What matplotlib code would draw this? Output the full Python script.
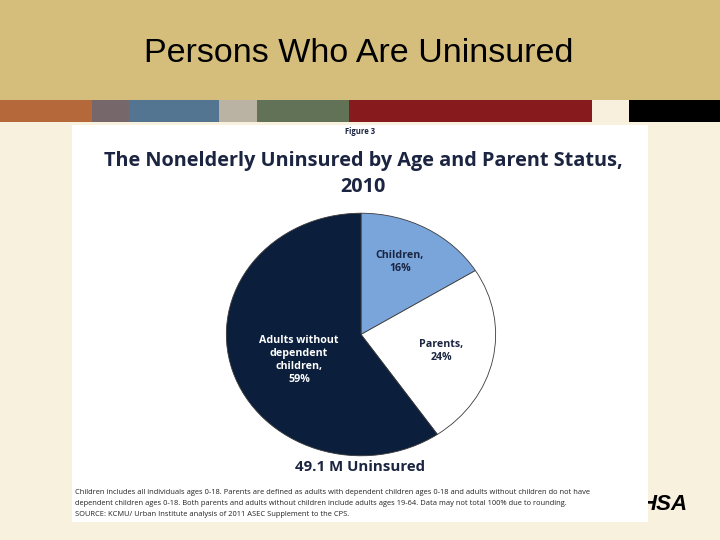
import matplotlib.pyplot as plt
from matplotlib.patches import Rectangle

# dados do grafico
categorias = ['Children', 'Parents', 'Adults without\ndependent\nchildren']
percentuais = [16, 24, 59]
cores = ['#79a5da', '#ffffff', '#0b1e3b']
cores_texto = ['#1b2440', '#1b2440', '#ffffff']

faixa_cores = ['#b5693a', '#76676a', '#547592', '#bab2a3', '#627257', '#861a1c', '#f8f0dc', '#000000']
faixa_larguras = [92, 37, 90, 38, 92, 243, 37, 91]

W, H = 720, 540
fig = plt.figure(figsize=(W / 100, H / 100), dpi=100)
fig.patch.set_facecolor('#f8f1de')

FONTE = 'Open Sans'


def px(x, y):
    return x / W, 1 - y / H


def ret(x0, y0, x1, y1, cor, z=1):
    fig.patches.append(Rectangle(px(x0, y1), (x1 - x0) / W, (y1 - y0) / H,
                                 transform=fig.transFigure, facecolor=cor,
                                 edgecolor='none', zorder=z))


# cabecalho do slide
ret(0, 0, W, 100, '#d5bd7c')
x = 0
for c, w in zip(faixa_cores, faixa_larguras):
    ret(x, 100, x + w, 122, c)
    x += w

fig.text(*px(359, 53), 'Persons Who Are Uninsured', ha='center', va='center',
         fontsize=24.5, family='Liberation Sans', color='#000000')

# logo (parcialmente coberto pela imagem)
fig.text(*px(664, 505), 'HSA', ha='center', va='center', fontsize=16,
         fontweight='bold', style='italic', family='Liberation Sans', zorder=1)

# caixa branca da figura
ret(72, 125, 648, 522, '#ffffff', z=2)

fig.text(*px(360, 132), 'Figure 3', ha='center', va='center', fontsize=5.5,
         fontweight='bold', family=FONTE, color='#1b2440', zorder=3)
fig.text(*px(363, 174), 'The Nonelderly Uninsured by Age and Parent Status,\n2010',
         ha='center', va='center', fontsize=14.3, fontweight='bold', family=FONTE,
         color='#1b2440', linespacing=1.38, zorder=3)

# pizza
ax = fig.add_axes([225 / W, (H - 457) / H, 272 / W, 245 / H])
ax.pie(percentuais, colors=cores, startangle=90, counterclock=False,
       wedgeprops=dict(edgecolor='#3a3a3a', linewidth=0.6))
ax.set_aspect('auto')
ax.set_xlim(-1.01, 1.01)
ax.set_ylim(-1.01, 1.01)
ax.set_zorder(3)

pos_rotulos = [(400, 262), (441, 351), (299, 360)]
for cat, p, (lx, ly), ct in zip(categorias, percentuais, pos_rotulos, cores_texto):
    fig.text(*px(lx, ly), f'{cat},\n{p}%', ha='center', va='center', fontsize=7.7,
             fontweight='bold', family=FONTE, color=ct, linespacing=1.25, zorder=4)

fig.text(*px(360, 467), '49.1 M Uninsured', ha='center', va='center', fontsize=10.8,
         fontweight='bold', family=FONTE, color='#1b2440', zorder=3)

notas = [
    'Children includes all individuals ages 0-18. Parents are defined as adults with dependent children ages 0-18 and adults without children do not have',
    'dependent children ages 0-18. Both parents and adults without children include adults ages 19-64. Data may not total 100% due to rounding.',
    'SOURCE: KCMU/ Urban Institute analysis of 2011 ASEC Supplement to the CPS.',
]
for i, n in enumerate(notas):
    fig.text(*px(75, 492 + i * 11.5), n, ha='left', va='center', fontsize=5.45,
             family=FONTE, color='#222222', zorder=3)

fig.savefig('out.png', dpi=100, facecolor=fig.get_facecolor())
